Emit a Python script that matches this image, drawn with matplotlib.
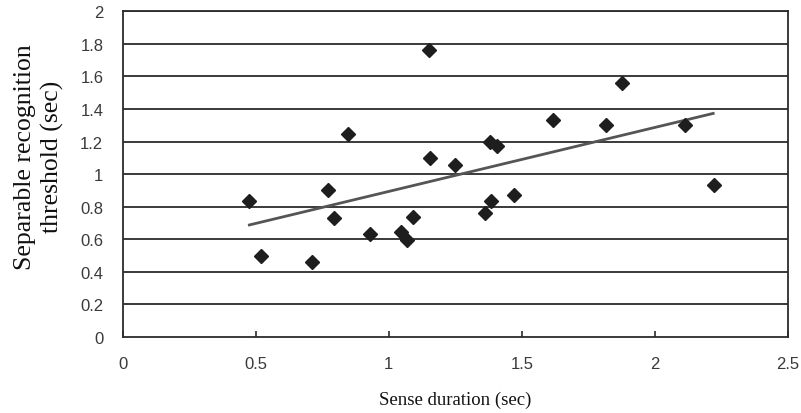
import matplotlib
matplotlib.use("Agg")
import matplotlib.pyplot as plt

# точки измерений
sense_duration = [0.473, 0.520, 0.711, 0.770, 0.793, 0.848, 0.929, 1.045, 1.067,
                  1.092, 1.151, 1.155, 1.248, 1.363, 1.380, 1.383, 1.408, 1.470,
                  1.616, 1.816, 1.875, 2.113, 2.223]
threshold = [0.833, 0.499, 0.462, 0.902, 0.733, 1.246, 0.632, 0.646, 0.597,
             0.735, 1.764, 1.099, 1.056, 0.761, 1.199, 0.837, 1.171, 0.872,
             1.332, 1.303, 1.559, 1.301, 0.933]

# линия тренда (концы)
trend_x = [0.476, 2.219]
trend_y = [0.688, 1.373]

x_ticks = [0, 0.5, 1, 1.5, 2, 2.5]
x_tick_labels = ["0", "0.5", "1", "1.5", "2", "2.5"]
y_ticks = [0, 0.2, 0.4, 0.6, 0.8, 1, 1.2, 1.4, 1.6, 1.8, 2]
y_tick_labels = ["0", "0.2", "0.4", "0.6", "0.8", "1", "1.2", "1.4", "1.6", "1.8", "2"]

W, H = 801, 414
fig = plt.figure(figsize=(W / 100, H / 100), dpi=100)
ax = fig.add_axes([122.7 / W, 1 - 338 / H, (788 - 122.7) / W, (338 - 12.3) / H])

# горизонтальная сетка
for v in y_ticks[1:]:
    ax.axhline(v, color="#2b2b2b", linewidth=1.3, zorder=1)

ax.plot(trend_x, trend_y, color="#555555", linewidth=2, zorder=2)
ax.plot(sense_duration, threshold, linestyle="none", marker="D",
        markersize=7, color="#1e1e1e", zorder=3)

ax.set_xlim(0, 2.5)
ax.set_ylim(0, 2)
ax.set_xticks(x_ticks)
ax.set_xticklabels(x_tick_labels)
ax.set_yticks(y_ticks)
ax.set_yticklabels(y_tick_labels)

for s in ax.spines.values():
    s.set_color("#2b2b2b")
    s.set_linewidth(1.3)

ax.tick_params(axis="x", direction="in", length=4, width=1.2, color="#2b2b2b",
               pad=14, labelsize=12, labelcolor="#3a3a3a")
ax.tick_params(axis="y", length=0, pad=14, labelsize=12, labelcolor="#3a3a3a")
for lab in ax.get_xticklabels() + ax.get_yticklabels():
    lab.set_fontfamily("Liberation Sans")

ax.set_xlabel("Sense duration (sec)", fontfamily="Liberation Serif", fontsize=13.5,
              color="#111111", labelpad=14)
fig.text(39 / W, 1 - 157 / H, "Separable recognition\nthreshold (sec)",
         rotation=90, ha="center", va="center", multialignment="center",
         fontfamily="Liberation Serif", fontsize=18.5, color="#111111",
         linespacing=1.3)

fig.savefig("out.png", dpi=100, facecolor="white")
